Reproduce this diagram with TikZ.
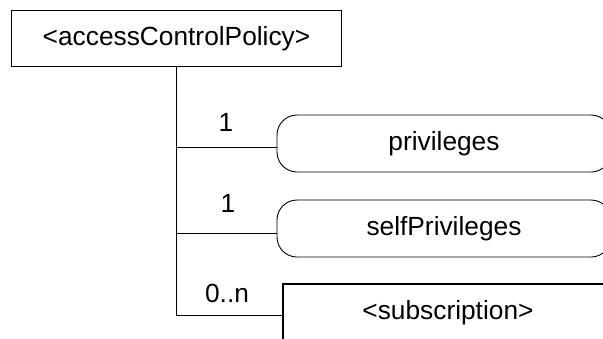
\documentclass[tikz,border=0pt]{standalone}
\usepackage{fontspec}
\setmainfont{Liberation Sans}
\usepackage{tikz}
\usetikzlibrary{shapes,arrows}

\tikzset{
  elem/.style={draw, line width=1.5pt, minimum width=330pt, minimum height=56pt, inner sep=0pt},
  attr/.style={draw, line width=0.9pt, rounded corners=20pt, minimum width=334pt, minimum height=57pt, inner sep=0pt},
  child/.style={draw, line width=2pt, minimum width=330pt, minimum height=58pt, inner sep=0pt},
  card/.style={inner sep=0.75pt},
  link/.style={line width=1pt}
}

\begin{document}
\begin{tikzpicture}[x=1pt,y=1pt,yscale=-1,xscale=1,font=\fontsize{26.3}{31}\selectfont]
\useasboundingbox (0,0) rectangle (603,338);
\begin{scope}
\clip (0,0) rectangle (603,338);

%Shape: Rectangle [acp]
\node [elem] (acp) at (176.5,38.5) {<accessControlPolicy>};
%Shape: Rounded Rectangle [priv]
\node [attr] (priv) at (444,143.5) {privileges};
%Shape: Rounded Rectangle [selfpriv]
\node [attr] (selfpriv) at (444,228.5) {selfPrivileges};
%Shape: Rectangle [sub]
\node [child] (sub) at (448,313) {<subscription>};

%Straight Lines [trunk]
\coordinate (j1) at (176,147);
\coordinate (j2) at (176,233);
\coordinate (j3) at (176,315);
\draw [link] (acp.south -| j3) -- (j3);
%Straight Lines [branches]
\draw [link] (j1) -- (j1 -| priv.west);
\draw [link] (j2) -- (j2 -| selfpriv.west);
\draw [link] (j3) -- (j3 -| sub.west);

% Text Node
\node [card] (c1) at (226,122) {1};
% Text Node
\node [card] (c2) at (228,203) {1};
% Text Node
\node [card] (c3) at (227,293) {0..n};
\end{scope}

\end{tikzpicture}
\end{document}
